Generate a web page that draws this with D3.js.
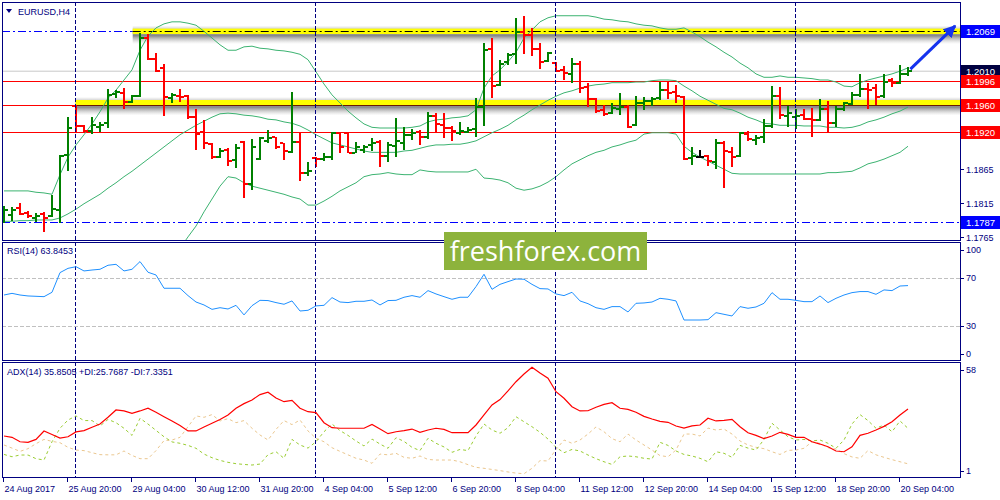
<!DOCTYPE html>
<html><head><meta charset="utf-8">
<script src="https://cdn.jsdelivr.net/npm/d3@7"></script>
<style>
body{margin:0;background:#fff}
svg{display:block}
text{font-family:'Liberation Sans',Arial,sans-serif;}
</style></head>
<body><svg id="c" width="1000" height="500"></svg>
<script>
// ---------- DATA (EURUSD H4, 24 Aug 12:00 – 20 Sep 08:00, 2017) ----------
const symbol = "EURUSD,H4";
const open = [1.1799,1.1797,1.1808,1.1800,1.1793,1.1799,1.1796,1.1805,1.1886,1.1958,1.1929,1.1922,1.1927,1.1933,1.1976,1.1978,1.1964,1.1973,1.2059,1.2028,1.2015,1.1970,1.1973,1.1973,1.1942,1.1920,1.1902,1.1883,1.1893,1.1879,1.1905,1.1843,1.1880,1.1907,1.1913,1.1904,1.1890,1.1905,1.1859,1.1882,1.1880,1.1883,1.1919,1.1919,1.1889,1.1893,1.1901,1.1905,1.1885,1.1899,1.1904,1.1916,1.1920,1.1913,1.1944,1.1930,1.1926,1.1919,1.1920,1.1924,1.1957,1.2043,1.1990,1.2024,1.2035,1.2068,1.2064,1.2043,1.2025,1.2022,1.2012,1.2006,1.2021,1.1987,1.1969,1.1953,1.1948,1.1954,1.1957,1.1930,1.1963,1.1966,1.1970,1.1982,1.1979,1.1972,1.1882,1.1883,1.1885,1.1876,1.1904,1.1890,1.1885,1.1917,1.1908,1.1913,1.1929,1.1973,1.1944,1.1942,1.1945,1.1939,1.1938,1.1954,1.1933,1.1954,1.1961,1.1975,1.1984,1.1985,1.1973,1.1997,1.1993,1.2006];
const high = [1.1811,1.1809,1.1815,1.1803,1.1800,1.1802,1.1827,1.1886,1.1942,1.1960,1.1930,1.1942,1.1935,1.1984,1.1982,1.1985,1.1975,1.2066,1.2065,1.2037,1.2021,1.1978,1.1984,1.1975,1.1954,1.1938,1.1904,1.1896,1.1896,1.1902,1.1907,1.1910,1.1913,1.1923,1.1913,1.1904,1.1979,1.1920,1.1876,1.1883,1.1889,1.1920,1.1920,1.1920,1.1905,1.1901,1.1911,1.1908,1.1905,1.1941,1.1927,1.1924,1.1923,1.1950,1.1948,1.1948,1.1929,1.1935,1.1927,1.1970,1.2052,1.2059,1.2027,1.2037,1.2089,1.2092,1.2074,1.2052,1.2038,1.2024,1.2018,1.2030,1.2025,1.1993,1.1970,1.1960,1.1963,1.1978,1.1960,1.1973,1.1972,1.1972,1.1994,1.1994,1.1990,1.1973,1.1898,1.1893,1.1886,1.1910,1.1907,1.1898,1.1920,1.1922,1.1916,1.1939,1.1988,1.1987,1.1958,1.1954,1.1954,1.1955,1.1969,1.1966,1.1958,1.1964,1.1979,1.2006,1.1993,1.1991,1.2006,1.2000,1.2019,1.2016];
const low = [1.1785,1.1788,1.1797,1.1793,1.1787,1.1772,1.1794,1.1785,1.1862,1.1920,1.1920,1.1917,1.1920,1.1926,1.1970,1.1954,1.1963,1.1972,1.2027,1.2009,1.1944,1.1963,1.1964,1.1939,1.1893,1.1895,1.1880,1.1882,1.1870,1.1867,1.1822,1.1834,1.1879,1.1904,1.1895,1.1879,1.1889,1.1848,1.1855,1.1868,1.1877,1.1879,1.1889,1.1889,1.1889,1.1889,1.1892,1.1868,1.1876,1.1883,1.1893,1.1908,1.1901,1.1910,1.1919,1.1911,1.1907,1.1916,1.1919,1.1913,1.1929,1.1970,1.1988,1.2019,1.2021,1.2035,1.2032,1.2013,1.2024,1.2009,1.1997,1.1993,1.1978,1.1957,1.1948,1.1944,1.1947,1.1945,1.1926,1.1929,1.1953,1.1958,1.1967,1.1969,1.1963,1.1879,1.1871,1.1882,1.1870,1.1865,1.1837,1.1868,1.1883,1.1907,1.1901,1.1904,1.1926,1.1939,1.1927,1.1924,1.1938,1.1913,1.1936,1.1919,1.1927,1.1951,1.1960,1.1972,1.1954,1.1960,1.1970,1.1987,1.1991,1.2003];
const close = [1.1805,1.1805,1.1799,1.1796,1.1796,1.1793,1.1806,1.1885,1.1926,1.1929,1.1922,1.1930,1.1930,1.1975,1.1979,1.1964,1.1973,1.2059,1.2028,1.2010,1.1972,1.1975,1.1972,1.1942,1.1917,1.1904,1.1883,1.1892,1.1877,1.1896,1.1843,1.1898,1.1911,1.1911,1.1898,1.1892,1.1905,1.1859,1.1862,1.1880,1.1883,1.1919,1.1898,1.1889,1.1898,1.1898,1.1904,1.1885,1.1901,1.1907,1.1916,1.1919,1.1913,1.1944,1.1932,1.1926,1.1922,1.1922,1.1923,1.1957,1.2041,1.1988,1.2021,1.2034,1.2068,1.2064,1.2043,1.2024,1.2037,1.2010,1.2007,1.2021,1.1985,1.1969,1.1951,1.1947,1.1955,1.1957,1.1927,1.1963,1.1966,1.1969,1.1982,1.1978,1.1973,1.1880,1.1885,1.1883,1.1877,1.1904,1.1892,1.1883,1.1919,1.1910,1.1911,1.1929,1.1973,1.1945,1.1948,1.1944,1.1939,1.1938,1.1954,1.1933,1.1954,1.1963,1.1975,1.1984,1.1982,1.1972,1.1994,1.1993,1.2006,1.2010];

const bbUpper = [1.1833,1.1833,1.1833,1.1833,1.1831,1.1830,1.1828,1.1857,1.1883,1.1901,1.1916,1.1932,1.1950,1.1970,1.1982,1.1997,1.2012,1.2041,1.2062,1.2074,1.2080,1.2083,1.2083,1.2081,1.2078,1.2069,1.2059,1.2049,1.2041,1.2041,1.2046,1.2047,1.2044,1.2043,1.2041,1.2040,1.2038,1.2035,1.2027,1.2009,1.1991,1.1975,1.1963,1.1951,1.1941,1.1932,1.1927,1.1926,1.1926,1.1926,1.1926,1.1927,1.1929,1.1935,1.1938,1.1939,1.1941,1.1942,1.1944,1.1953,1.1985,1.2003,1.2012,1.2024,1.2038,1.2059,1.2071,1.2083,1.2089,1.2092,1.2092,1.2092,1.2092,1.2092,1.2090,1.2087,1.2086,1.2084,1.2083,1.2080,1.2078,1.2077,1.2074,1.2072,1.2072,1.2074,1.2068,1.2061,1.2053,1.2046,1.2038,1.2031,1.2022,1.2015,1.2006,1.2001,1.2001,1.2003,1.2001,1.2001,1.2000,1.1999,1.1997,1.1997,1.1994,1.1988,1.1987,1.1993,1.1997,1.2000,1.2003,1.2006,1.2010,1.2015];
const bbMiddle = [1.1788,1.1788,1.1789,1.1789,1.1790,1.1790,1.1790,1.1793,1.1799,1.1806,1.1814,1.1821,1.1828,1.1837,1.1845,1.1854,1.1862,1.1871,1.1880,1.1889,1.1898,1.1907,1.1916,1.1923,1.1930,1.1936,1.1942,1.1947,1.1948,1.1947,1.1945,1.1944,1.1942,1.1939,1.1938,1.1935,1.1933,1.1929,1.1923,1.1916,1.1910,1.1904,1.1901,1.1898,1.1895,1.1892,1.1890,1.1890,1.1890,1.1890,1.1892,1.1893,1.1896,1.1899,1.1901,1.1901,1.1902,1.1902,1.1904,1.1907,1.1913,1.1919,1.1924,1.1930,1.1938,1.1945,1.1953,1.1960,1.1967,1.1973,1.1978,1.1981,1.1985,1.1988,1.1990,1.1991,1.1993,1.1993,1.1993,1.1994,1.1994,1.1996,1.1997,1.1997,1.1996,1.1988,1.1981,1.1973,1.1967,1.1961,1.1955,1.1953,1.1948,1.1942,1.1938,1.1933,1.1932,1.1930,1.1930,1.1930,1.1929,1.1929,1.1929,1.1927,1.1927,1.1926,1.1927,1.1930,1.1935,1.1938,1.1942,1.1947,1.1951,1.1957];
const bbLower = [1.1738,1.1738,1.1739,1.1741,1.1744,1.1746,1.1750,1.1731,1.1716,1.1711,1.1711,1.1710,1.1707,1.1704,1.1707,1.1710,1.1713,1.1701,1.1698,1.1704,1.1716,1.1731,1.1748,1.1765,1.1781,1.1802,1.1821,1.1840,1.1854,1.1852,1.1845,1.1840,1.1837,1.1834,1.1831,1.1828,1.1824,1.1821,1.1812,1.1812,1.1818,1.1825,1.1833,1.1839,1.1845,1.1854,1.1857,1.1858,1.1860,1.1858,1.1857,1.1857,1.1864,1.1862,1.1861,1.1861,1.1861,1.1861,1.1861,1.1865,1.1852,1.1851,1.1849,1.1845,1.1837,1.1834,1.1836,1.1840,1.1846,1.1854,1.1864,1.1873,1.1879,1.1885,1.1890,1.1893,1.1898,1.1901,1.1905,1.1908,1.1917,1.1919,1.1919,1.1919,1.1917,1.1899,1.1890,1.1883,1.1877,1.1871,1.1865,1.1859,1.1858,1.1858,1.1858,1.1858,1.1858,1.1858,1.1858,1.1858,1.1858,1.1858,1.1858,1.1860,1.1860,1.1861,1.1862,1.1867,1.1873,1.1876,1.1880,1.1885,1.1890,1.1899];

const rsi = [55.9,57.3,55.9,55.1,54.8,54.5,58.2,74.8,78.4,79.8,76.2,77.0,77.6,81.0,81.8,76.2,77.6,84.1,75.1,72.8,61.6,61.6,61.6,55.4,50.0,47.5,43.8,45.2,44.1,47.2,39.1,46.9,51.4,51.2,49.5,48.1,50.9,42.4,43.0,46.7,47.2,53.7,50.0,49.5,50.6,50.6,51.7,47.5,51.2,51.4,54.0,55.4,54.0,59.6,56.8,54.5,52.3,54.0,54.0,63.0,73.4,60.7,64.9,67.2,69.4,69.2,64.9,61.3,61.0,56.8,55.4,58.2,50.9,48.6,45.2,43.8,46.1,46.1,41.6,48.9,49.2,50.0,53.1,52.3,50.9,34.8,34.8,34.8,35.1,41.0,39.6,38.2,46.1,44.7,45.8,48.9,57.9,52.3,52.3,51.4,50.3,50.3,55.1,49.5,53.1,55.9,57.9,58.8,58.8,56.5,60.2,59.6,63.5,63.8453];

const adx = [21.8,21.1,18.8,18.5,20.0,24.4,22.6,20.7,21.4,23.9,24.6,26.3,28.0,31.5,35.3,34.8,33.6,34.8,36.2,34.1,31.8,29.6,27.2,24.4,24.4,26.5,28.4,30.4,32.7,36.2,38.6,40.5,43.3,44.5,41.5,39.6,40.3,36.2,34.4,33.9,28.7,26.1,25.8,25.8,25.8,25.8,27.8,25.4,23.0,24.0,24.6,25.4,23.7,24.9,25.8,25.2,23.5,23.5,23.5,27.5,32.7,37.9,40.7,45.2,50.0,54.0,57.5,54.5,51.8,44.8,41.4,37.0,34.8,34.9,36.7,38.2,39.1,36.2,35.6,34.1,32.0,30.6,29.4,28.9,27.0,25.9,27.0,27.5,31.0,29.6,29.9,30.4,26.6,23.5,22.1,20.4,21.8,23.7,22.6,21.1,21.1,18.8,17.6,16.2,14.0,13.6,16.2,22.1,23.2,24.9,26.8,29.2,32.7,35.8505];
const plusDI = [12.2,11.0,11.9,11.9,10.0,9.3,18.8,25.8,30.1,32.2,29.8,29.8,27.0,30.4,28.7,25.8,22.1,31.0,28.0,24.7,21.4,18.7,18.0,16.9,15.4,12.4,10.5,9.1,8.1,7.4,7.0,6.7,7.2,12.1,13.6,10.2,20.0,17.1,15.5,18.8,24.0,28.0,24.6,22.1,19.2,16.6,20.2,17.6,15.4,20.9,19.0,15.9,14.2,20.6,18.0,16.1,13.3,14.8,14.2,21.8,28.0,24.9,23.2,26.1,31.8,29.2,26.6,23.7,20.2,15.9,13.1,14.8,14.0,11.9,10.0,8.4,7.0,11.0,11.4,11.0,10.2,9.8,18.5,16.9,14.0,12.2,11.4,10.2,8.4,13.6,12.8,10.7,16.9,15.5,14.5,20.0,28.4,24.9,21.4,19.7,20.0,19.2,19.7,18.0,15.4,19.7,28.0,32.9,29.8,25.8,27.5,24.0,29.6,25.7687];
const minusDI = [17.1,15.5,13.8,15.2,17.8,20.0,19.0,18.3,15.9,14.5,14.2,13.1,12.1,12.0,12.0,14.0,11.7,10.0,10.0,14.2,19.4,19.7,21.1,26.6,32.2,31.5,32.9,29.6,30.8,28.7,29.8,25.8,22.3,19.7,25.2,29.8,27.7,30.1,24.4,20.6,18.8,15.7,13.8,12.0,10.2,9.3,7.6,12.4,12.0,12.8,10.7,10.2,11.4,9.6,9.3,9.3,9.3,8.4,6.9,5.5,5.0,4.4,3.8,3.1,2.5,2.2,5.0,9.0,8.8,14.8,19.7,18.0,19.7,22.8,26.5,24.0,20.4,18.8,22.8,19.7,17.1,14.5,11.6,11.0,14.5,22.8,22.8,21.8,25.9,24.9,25.4,22.8,19.2,17.1,15.9,15.2,13.6,12.2,14.3,14.5,15.4,18.8,18.0,15.7,15.0,12.6,10.9,10.2,14.2,12.0,10.7,9.5,8.4,7.3351];

const timeLabels = ["24 Aug 2017","25 Aug 20:00","29 Aug 04:00","30 Aug 12:00","31 Aug 20:00","4 Sep 04:00","5 Sep 12:00","6 Sep 20:00","8 Sep 04:00","11 Sep 12:00","12 Sep 20:00","14 Sep 04:00","15 Sep 12:00","18 Sep 20:00","20 Sep 04:00"];
const timeLabelBars = [0,8,16,24,32,40,48,56,64,72,80,88,96,104,112];
const weekStartBars = [9,39,69,99];
const priceTicks = [1.1765,1.1815,1.1865,1.1915,1.1965,1.2015,1.2065];
const rsiLevels = [70,30];
const rsiAxisLabels = [100,70,30,0];
const adxAxisLabels = [58,1];
const bidPrice = 1.2010;
const redLevels = [1.1996,1.1920];
const blueLevels = [1.2069,1.1787];
const highlightLevels = [1.2069,1.1960];
const highlightStartBars = [16.15,9];
const labelledLevels = [1.2069,1.2010,1.1996,1.1960,1.1920,1.1787];
const arrowFrom = [113.3,1.2013], arrowTo = [118.9,1.2077];

// ---------- LAYOUT ----------
const L=2, R=960;
const main={t:2,b:241}, rp={t:242,b:361}, ap={t:362,b:478};
const svg=d3.select('#c');
const N=open.length;
const x=d3.scaleLinear().domain([0,N-1]).range([4,4+8*(N-1)]);
const yP=d3.scaleLinear().domain([1.1787,1.2069]).range([222,31.3]);
const yR=d3.scaleLinear().domain([0,100]).range([361.25,242.75]);
const yA=d3.scaleLinear().domain([1,58]).range([476,366.3]);
const NAVY='#000080';

const defs=svg.append('defs');
[['cm',main],['cr',rp],['ca',ap]].forEach(([id,p])=>{
  defs.append('clipPath').attr('id',id).append('rect').attr('x',L).attr('y',p.t).attr('width',R-L).attr('height',p.b-p.t);
});
const sh=defs.append('linearGradient').attr('id','shade').attr('x1',0).attr('x2',0).attr('y1',0).attr('y2',1);
sh.append('stop').attr('offset','0').attr('stop-color','#888').attr('stop-opacity',0);
sh.append('stop').attr('offset','0.25').attr('stop-color','#666').attr('stop-opacity',0.45);
sh.append('stop').attr('offset','0.55').attr('stop-color','#555').attr('stop-opacity',0.7);
sh.append('stop').attr('offset','1').attr('stop-color','#aaa').attr('stop-opacity',0);
defs.append('marker').attr('id','ah').attr('viewBox','0 0 10 10').attr('refX',9).attr('refY',5)
  .attr('markerWidth',4.2).attr('markerHeight',4.2).attr('orient','auto').attr('markerUnits','strokeWidth')
  .append('path').attr('d','M0,0 L10,5 L0,10 z').attr('fill','#1533ee');

svg.append('rect').attr('width',1000).attr('height',500).attr('fill','#fff');

// ---------- MAIN PANEL ----------
const gm=svg.append('g').attr('clip-path','url(#cm)');
const gsep=svg.append('g');
weekStartBars.forEach(b=>{
  gsep.append('line').attr('x1',x(b)-0.5).attr('x2',x(b)-0.5).attr('y1',main.t).attr('y2',ap.b)
    .attr('stroke',NAVY).attr('stroke-dasharray','4,2').attr('stroke-width',1);
});
gm.append('line').attr('x1',L).attr('x2',R).attr('y1',yP(bidPrice)).attr('y2',yP(bidPrice)).attr('stroke','#c8c8c8');
redLevels.forEach(p=>gm.append('line').attr('x1',L).attr('x2',R).attr('y1',Math.round(yP(p))+0.5).attr('y2',Math.round(yP(p))+0.5).attr('stroke','#ff0000'));
blueLevels.forEach(p=>gm.append('line').attr('x1',L).attr('x2',R).attr('y1',Math.round(yP(p))+0.5).attr('y2',Math.round(yP(p))+0.5)
  .attr('stroke','#0000ff').attr('stroke-dasharray','8,3,2,3'));
gm.append('line').attr('x1',L).attr('x2',R).attr('y1',Math.round(yP(1.1960))+0.5).attr('y2',Math.round(yP(1.1960))+0.5).attr('stroke','#ff0000');
highlightLevels.forEach((p,k)=>{
  const yy=yP(p), x0=x(highlightStartBars[k])-0.5;
  const top = k===0 ? yy-2.7 : yy-5;
  const bot = k===0 ? yy+2.7 : yy+0.4;
  gm.append('rect').attr('x',x0).attr('y',top-3).attr('width',R-x0).attr('height',bot-top+13).attr('fill','url(#shade)');
  gm.append('rect').attr('x',x0).attr('y',top).attr('width',R-x0).attr('height',bot-top).attr('fill','#ffff00');
  if(k===0){
    gm.append('line').attr('x1',x0).attr('x2',R).attr('y1',Math.round(yy)+0.5).attr('y2',Math.round(yy)+0.5)
      .attr('stroke','#000').attr('stroke-dasharray','8,3,2,3');
  } else {
    gm.append('line').attr('x1',x0).attr('x2',R).attr('y1',Math.round(yy)+0.5).attr('y2',Math.round(yy)+0.5).attr('stroke','#6b1a00');
  }
});
const lineP=d3.line().x((d,i)=>x(i)).y(d=>yP(d));
[bbUpper,bbMiddle,bbLower].forEach(arr=>gm.append('path').attr('d',lineP(arr)).attr('fill','none').attr('stroke','#3cb371').attr('stroke-width',1));
const gb=gm.append('g').attr('shape-rendering','crispEdges');
for(let i=0;i<N;i++){
  const c = close[i]>open[i]?'#008000':(close[i]<open[i]?'#ff0000':'#000000');
  const cx=Math.round(x(i));
  const yh=Math.round(yP(high[i])), yl=Math.round(yP(low[i]));
  gb.append('rect').attr('x',cx-1).attr('y',yh).attr('width',2).attr('height',Math.max(1,yl-yh)).attr('fill',c);
  gb.append('rect').attr('x',cx-4).attr('y',Math.round(yP(open[i]))-1).attr('width',3).attr('height',2).attr('fill',c);
  gb.append('rect').attr('x',cx+1).attr('y',Math.round(yP(close[i]))-1).attr('width',3).attr('height',2).attr('fill',c);
}

// ---------- RSI PANEL ----------
const gr=svg.append('g').attr('clip-path','url(#cr)');
rsiLevels.forEach(v=>gr.append('line').attr('x1',L).attr('x2',R).attr('y1',Math.round(yR(v))+0.5).attr('y2',Math.round(yR(v))+0.5)
  .attr('stroke','#c0c0c0').attr('stroke-dasharray','4,2'));
gr.append('path').attr('d',d3.line().x((d,i)=>x(i)).y(d=>yR(d))(rsi)).attr('fill','none').attr('stroke','#1e90ff').attr('stroke-width',1);

// ---------- ADX PANEL ----------
const ga=svg.append('g').attr('clip-path','url(#ca)');
const lineA=d3.line().x((d,i)=>x(i)).y(d=>yA(d));
ga.append('path').attr('d',lineA(minusDI)).attr('fill','none').attr('stroke','#ebc78f').attr('stroke-dasharray','3,3');
ga.append('path').attr('d',lineA(plusDI)).attr('fill','none').attr('stroke','#9acd32').attr('stroke-dasharray','3,3');
ga.append('path').attr('d',lineA(adx)).attr('fill','none').attr('stroke','#ff0000').attr('stroke-width',1.2);

// ---------- FRAMES ----------
[main,rp,ap].forEach(p=>{
  svg.append('rect').attr('x',L+0.5).attr('y',p.t+0.5).attr('width',R-L).attr('height',p.b-p.t-1)
    .attr('fill','none').attr('stroke',NAVY).attr('stroke-width',1).attr('shape-rendering','crispEdges');
});

// ---------- AXES ----------
const ax=svg.append('g').attr('fill',NAVY).attr('font-size','9px');
priceTicks.forEach(p=>{
  const yy=Math.round(yP(p))+0.5;
  svg.append('line').attr('x1',R).attr('x2',R+4).attr('y1',yy).attr('y2',yy).attr('stroke',NAVY);
  // tick labels hidden under a level box are not drawn
  const covered = labelledLevels.some(q=>Math.abs(yP(q)-yP(p))<9);
  if(!covered) ax.append('text').attr('x',966).attr('y',yy).attr('dy','0.35em').text(p.toFixed(4));
});
const clampY=(v,p)=>Math.min(Math.max(v,p.t+7.5),p.b-7);
rsiAxisLabels.forEach(v=>{
  const yy=clampY(yR(v),rp);
  svg.append('line').attr('x1',R).attr('x2',R+4).attr('y1',Math.round(yy)+0.5).attr('y2',Math.round(yy)+0.5).attr('stroke',NAVY);
  ax.append('text').attr('x',966).attr('y',yy).attr('dy','0.35em').text(v);
});
adxAxisLabels.forEach(v=>{
  const yy=clampY(yA(v),ap);
  svg.append('line').attr('x1',R).attr('x2',R+4).attr('y1',Math.round(yy)+0.5).attr('y2',Math.round(yy)+0.5).attr('stroke',NAVY);
  ax.append('text').attr('x',966).attr('y',yy).attr('dy','0.35em').text(v);
});
timeLabels.forEach((t,k)=>{
  const xx=Math.round(x(timeLabelBars[k]))-0.5;
  svg.append('line').attr('x1',xx).attr('x2',xx).attr('y1',ap.b).attr('y2',ap.b+4).attr('stroke',NAVY);
  ax.append('text').attr('x',xx+1).attr('y',492).text(t);
});

const boxColor={1.2069:'#0000ff',1.2010:'#000040',1.1996:'#ff0000',1.1960:'#ff0000',1.1920:'#ff0000',1.1787:'#0000ff'};
labelledLevels.forEach(p=>{
  const yy=yP(p);
  svg.append('rect').attr('x',961).attr('y',Math.round(yy)-6).attr('width',39).attr('height',13).attr('fill',boxColor[p]);
  svg.append('text').attr('x',966).attr('y',Math.round(yy)+0.5).attr('dy','0.35em').attr('fill','#fff').attr('font-size','9.5px').text(p.toFixed(4));
});

svg.append('path').attr('d','M6,9 L12,9 L9,13 z').attr('fill',NAVY);
svg.append('text').attr('x',18).attr('y',15).attr('fill',NAVY).attr('font-size','9px').text(symbol);
svg.append('text').attr('x',7).attr('y',254).attr('fill',NAVY).attr('font-size','9px').text('RSI(14) '+rsi[N-1].toFixed(4));
svg.append('text').attr('x',7).attr('y',375).attr('fill',NAVY).attr('font-size','9px')
  .text('ADX(14) '+adx[N-1].toFixed(4)+' +DI:'+plusDI[N-1].toFixed(4)+' -DI:'+minusDI[N-1].toFixed(4));

svg.append('line').attr('x1',x(arrowFrom[0])).attr('y1',yP(arrowFrom[1])).attr('x2',x(arrowTo[0])).attr('y2',yP(arrowTo[1]))
  .attr('stroke','#1533ee').attr('stroke-width',3).attr('marker-end','url(#ah)');

svg.append('rect').attr('x',444).attr('y',232).attr('width',203).attr('height',38).attr('fill','#8db33c');
svg.append('text').attr('x',545.5).attr('y',261).attr('text-anchor','middle').attr('fill','#fff')
  .style('font-family',"'Open Sans','Noto Sans',sans-serif").attr('font-size','27px').text('freshforex.com');
</script></body></html>
